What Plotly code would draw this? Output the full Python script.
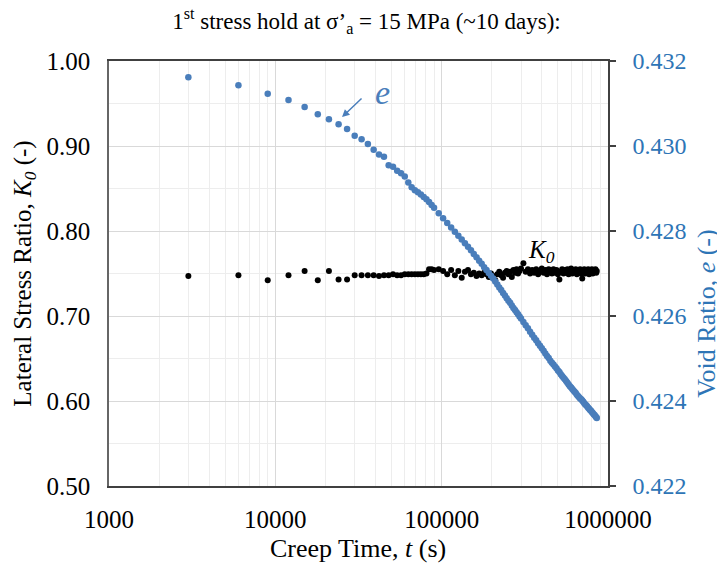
import plotly.graph_objects as go

# Creep time (s)
time_s = [3000, 6000, 9000, 12000, 15000, 18000, 21000, 24000, 27000, 30000,
          33000, 36000, 39000, 42000, 45000, 48000, 51000, 54000, 57000, 60000,
          63000, 66000, 69000, 72000, 75000, 78000, 81000, 84000, 87000, 90000,
          96000, 102000, 108000, 114000, 120000, 126000, 132000, 138000, 144000, 150000,
          156000, 162000, 168000, 174000, 180000, 186000, 192000, 198000, 204000, 210000,
          216000, 222000, 228000, 234000, 240000, 246000, 252000, 258000, 264000, 270000,
          276000, 282000, 288000, 294000, 300000, 310000, 320000, 330000, 340000, 350000,
          360000, 370000, 380000, 390000, 400000, 410000, 420000, 430000, 440000, 450000,
          460000, 470000, 480000, 490000, 500000, 510000, 520000, 530000, 540000, 550000,
          560000, 570000, 580000, 590000, 600000, 610000, 620000, 630000, 640000, 650000,
          660000, 670000, 680000, 690000, 700000, 710000, 720000, 730000, 740000, 750000,
          760000, 770000, 780000, 790000, 800000, 810000, 820000, 830000, 840000, 850000,
          856000]

# Void ratio e (-)
void_ratio = [0.43162, 0.43143, 0.43123, 0.43108, 0.43092, 0.43075, 0.43063, 0.43051, 0.43040, 0.43024,
              0.43016, 0.43005, 0.42991, 0.42980, 0.42975, 0.42955, 0.42951, 0.42942, 0.42936, 0.42928,
              0.42914, 0.42903, 0.42896, 0.42891, 0.42886, 0.42880, 0.42875, 0.42868, 0.42861, 0.42855,
              0.42842, 0.42830, 0.42819, 0.42808, 0.42798, 0.42789, 0.42780, 0.42771, 0.42763, 0.42755,
              0.42746, 0.42738, 0.42730, 0.42723, 0.42715, 0.42708, 0.42701, 0.42695, 0.42688, 0.42681,
              0.42674, 0.42667, 0.42661, 0.42654, 0.42648, 0.42642, 0.42636, 0.42631, 0.42625, 0.42619,
              0.42614, 0.42609, 0.42604, 0.42599, 0.42594, 0.42586, 0.42578, 0.42571, 0.42563, 0.42556,
              0.42549, 0.42543, 0.42536, 0.42530, 0.42524, 0.42518, 0.42512, 0.42506, 0.42501, 0.42495,
              0.42490, 0.42486, 0.42481, 0.42477, 0.42472, 0.42468, 0.42463, 0.42459, 0.42455, 0.42451,
              0.42447, 0.42443, 0.42439, 0.42435, 0.42432, 0.42428, 0.42425, 0.42422, 0.42419, 0.42415,
              0.42412, 0.42409, 0.42406, 0.42404, 0.42401, 0.42398, 0.42395, 0.42392, 0.42390, 0.42387,
              0.42384, 0.42382, 0.42379, 0.42377, 0.42374, 0.42372, 0.42369, 0.42367, 0.42364, 0.42362,
              0.42360]

# Lateral stress ratio K0 (-)
k0 = [0.747, 0.748, 0.742, 0.748, 0.753, 0.742, 0.753, 0.743, 0.743, 0.748,
      0.748, 0.748, 0.748, 0.747, 0.748, 0.748, 0.749, 0.748, 0.748, 0.749,
      0.749, 0.749, 0.749, 0.749, 0.749, 0.749, 0.750, 0.755, 0.755, 0.754,
      0.755, 0.753, 0.749, 0.754, 0.748, 0.753, 0.745, 0.752, 0.754, 0.749,
      0.751, 0.747, 0.750, 0.748, 0.751, 0.749, 0.746, 0.750, 0.747, 0.742,
      0.749, 0.752, 0.748, 0.745, 0.751, 0.753, 0.749, 0.752, 0.746, 0.754,
      0.751, 0.755, 0.750, 0.753, 0.756, 0.762, 0.752, 0.755, 0.750, 0.754,
      0.751, 0.755, 0.749, 0.753, 0.756, 0.751, 0.754, 0.749, 0.755, 0.752,
      0.750, 0.755, 0.751, 0.754, 0.749, 0.743, 0.752, 0.755, 0.750, 0.754,
      0.751, 0.755, 0.749, 0.753, 0.756, 0.750, 0.754, 0.752, 0.755, 0.749,
      0.753, 0.751, 0.755, 0.750, 0.744, 0.753, 0.755, 0.750, 0.754, 0.752,
      0.755, 0.749, 0.753, 0.751, 0.755, 0.750, 0.754, 0.752, 0.755, 0.751,
      0.753]

x_tickvals = [1000, 10000, 100000, 1000000]
x_ticktext = ["1000", "10000", "100000", "1000000"]

BLUE_MARK = "#4A7EBB"
BLUE_TEXT = "#2E75B6"
FONT = "Liberation Serif"

fig = go.Figure()
fig.add_trace(go.Scatter(x=time_s, y=k0, mode="markers", name="K0",
                         marker=dict(color="black", size=6), yaxis="y"))
fig.add_trace(go.Scatter(x=time_s, y=void_ratio, mode="markers", name="e",
                         marker=dict(color=BLUE_MARK, size=6.5), yaxis="y2"))

fig.update_layout(
    width=717, height=561,
    margin=dict(l=101, r=117, t=53, b=83, autoexpand=False),
    plot_bgcolor="white", paper_bgcolor="white",
    showlegend=False,
    font=dict(family=FONT, color="black", size=25),
    title=dict(text="1<sup>st</sup> stress hold at σ’<sub>a</sub> = 15 MPa (~10 days):",
               x=0.5, xanchor="center", y=0.977, yanchor="middle", yref="container",
               automargin=False,
               font=dict(family=FONT, size=23, color="black")),
    xaxis=dict(type="log", range=[3, 6], tickvals=x_tickvals, ticktext=x_ticktext,
               showgrid=True, gridcolor="#D9D9D9", gridwidth=1,
               minor=dict(dtick="D1", showgrid=True, gridcolor="#EDEDED", gridwidth=1, ticks=""),
               showline=True, linecolor="#404040", linewidth=1.5, mirror=True,
               ticks="", tickfont=dict(size=25), ticklabelstandoff=10,
               automargin=False, zeroline=False),
    yaxis=dict(range=[0.5, 1.0], dtick=0.1, tickformat=".2f",
               showgrid=True, gridcolor="#D9D9D9", gridwidth=1,
               minor=dict(dtick=0.05, showgrid=True, gridcolor="#EDEDED", gridwidth=1, ticks=""),
               showline=True, linecolor="#666666", linewidth=1.5,
               ticks="", tickfont=dict(size=25), ticklabelstandoff=12,
               automargin=False, zeroline=False),
    yaxis2=dict(range=[0.422, 0.432], dtick=0.002, tickformat=".3f",
                overlaying="y", side="right", showgrid=False,
                showline=True, linecolor="#404040", linewidth=1.5,
                ticks="outside", ticklen=6, tickcolor="#404040", tickwidth=1.5,
                tickfont=dict(size=24, color=BLUE_TEXT), ticklabelstandoff=12,
                automargin=False, zeroline=False),
)

# Axis titles
fig.add_annotation(text="Creep Time, <i>t</i> (s)", xref="paper", yref="paper",
                   x=0.499, y=-0.146, xanchor="center", yanchor="middle", showarrow=False,
                   font=dict(family=FONT, size=26, color="black"))
fig.add_annotation(text="Lateral Stress Ratio, <i>K<sub>0</sub></i> (-)", xref="paper", yref="paper",
                   x=-0.170, y=0.5, xanchor="center", yanchor="middle", textangle=-90,
                   showarrow=False, font=dict(family=FONT, size=25, color="black"))
fig.add_annotation(text="Void Ratio, <i>e</i> (-)", xref="paper", yref="paper",
                   x=1.196, y=0.407, xanchor="center", yanchor="middle", textangle=-90,
                   showarrow=False, font=dict(family=FONT, size=26, color=BLUE_TEXT))

# e label and arrow
fig.add_annotation(text="<i>e</i>", xref="paper", yref="paper", x=0.549, y=0.927,
                   xanchor="center", yanchor="middle",
                   showarrow=False, font=dict(family=FONT, size=34, color=BLUE_MARK))
fig.add_annotation(text="", xref="paper", yref="paper", x=0.467, y=0.868,
                   ax=21, ay=-20, showarrow=True, arrowhead=2, arrowsize=1,
                   arrowwidth=1.5, arrowcolor=BLUE_MARK)
# K0 label
fig.add_annotation(text="<i>K</i><sub><i>0</i></sub>", xref="paper", yref="paper",
                   x=0.866, y=0.551, xanchor="center", yanchor="middle", showarrow=False,
                   font=dict(family=FONT, size=25, color="black"))

fig.write_html("out.html")
